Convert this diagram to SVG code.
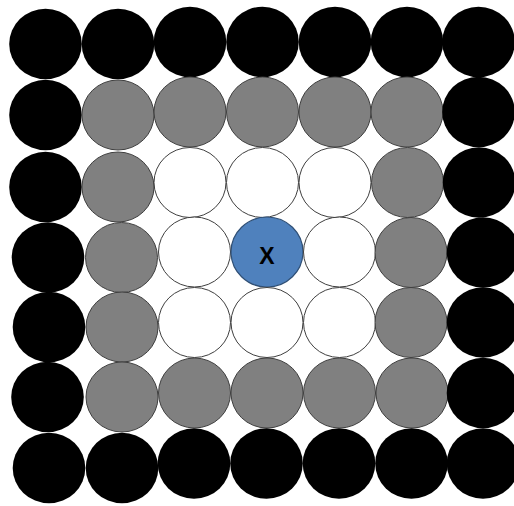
<svg xmlns="http://www.w3.org/2000/svg" width="514" height="506" viewBox="0 0 514 506">
<style>
.k{fill:#000000;stroke:none}
.g{fill:#808080;stroke:#3f3f3f;stroke-width:1}
.w{fill:#ffffff;stroke:#3f3f3f;stroke-width:1}
.b{fill:#4f81bd;stroke:#2f4f75;stroke-width:1.2}
.t{font-family:"Liberation Sans",Arial,sans-serif;font-size:23px;font-weight:bold;fill:#000000;text-anchor:middle}
</style>
<rect width="514" height="506" fill="#ffffff"/>
<g id="row1">
<ellipse id="n11" class="k" cx="45.5" cy="44" rx="36.3" ry="35.3"/>
<ellipse id="n12" class="k" cx="118" cy="44" rx="36.3" ry="35.3"/>
<ellipse id="n13" class="k" cx="190" cy="42" rx="36.3" ry="35.3"/>
<ellipse id="n14" class="k" cx="262.5" cy="42" rx="36.3" ry="35.3"/>
<ellipse id="n15" class="k" cx="335" cy="42" rx="36.3" ry="35.3"/>
<ellipse id="n16" class="k" cx="407" cy="42" rx="36.3" ry="35.3"/>
<ellipse id="n17" class="k" cx="478.5" cy="42" rx="36.3" ry="35.3"/>
</g>
<g id="row2">
<ellipse id="n21" class="k" cx="45.5" cy="115" rx="36.3" ry="35.3"/>
<ellipse id="n22" class="g" cx="118" cy="115" rx="36" ry="35"/>
<ellipse id="n23" class="g" cx="190" cy="112" rx="36" ry="35"/>
<ellipse id="n24" class="g" cx="262.5" cy="112" rx="36" ry="35"/>
<ellipse id="n25" class="g" cx="335" cy="112" rx="36" ry="35"/>
<ellipse id="n26" class="g" cx="407" cy="112" rx="36" ry="35"/>
<ellipse id="n27" class="k" cx="478.5" cy="112" rx="36.3" ry="35.3"/>
</g>
<g id="row3">
<ellipse id="n31" class="k" cx="45.5" cy="187" rx="36.3" ry="35.3"/>
<ellipse id="n32" class="g" cx="118" cy="187" rx="36" ry="35"/>
<ellipse id="n33" class="w" cx="190" cy="182.5" rx="36" ry="35"/>
<ellipse id="n34" class="w" cx="262.5" cy="182.5" rx="36" ry="35"/>
<ellipse id="n35" class="w" cx="335" cy="182.5" rx="36" ry="35"/>
<ellipse id="n36" class="g" cx="407.5" cy="182.5" rx="36" ry="35"/>
<ellipse id="n37" class="k" cx="479" cy="182.5" rx="36.3" ry="35.3"/>
</g>
<g id="row4">
<ellipse id="n41" class="k" cx="48" cy="257.5" rx="36.3" ry="35.3"/>
<ellipse id="n42" class="g" cx="121.5" cy="257.5" rx="36" ry="35"/>
<ellipse id="n43" class="w" cx="194.5" cy="252" rx="36" ry="35"/>
<g id="nX">
<ellipse class="b" cx="267" cy="252" rx="36" ry="35"/>
<text class="t" x="267" y="264">X</text>
</g>
<ellipse id="n45" class="w" cx="339.5" cy="252" rx="36" ry="35"/>
<ellipse id="n46" class="g" cx="411" cy="252.5" rx="36" ry="35"/>
<ellipse id="n47" class="k" cx="483" cy="252.5" rx="36.3" ry="35.3"/>
</g>
<g id="row5">
<ellipse id="n51" class="k" cx="49" cy="327" rx="36.3" ry="35.3"/>
<ellipse id="n52" class="g" cx="122" cy="327" rx="36" ry="35"/>
<ellipse id="n53" class="w" cx="194.5" cy="322.5" rx="36" ry="35"/>
<ellipse id="n54" class="w" cx="267" cy="322.5" rx="36" ry="35"/>
<ellipse id="n55" class="w" cx="339.5" cy="322.5" rx="36" ry="35"/>
<ellipse id="n56" class="g" cx="411" cy="322.5" rx="36" ry="35"/>
<ellipse id="n57" class="k" cx="483" cy="322.5" rx="36.3" ry="35.3"/>
</g>
<g id="row6">
<ellipse id="n61" class="k" cx="47.5" cy="397" rx="36.3" ry="35.3"/>
<ellipse id="n62" class="g" cx="122" cy="397" rx="36" ry="35"/>
<ellipse id="n63" class="g" cx="194.5" cy="393" rx="36" ry="35"/>
<ellipse id="n64" class="g" cx="267" cy="393" rx="36" ry="35"/>
<ellipse id="n65" class="g" cx="339.5" cy="393" rx="36" ry="35"/>
<ellipse id="n66" class="g" cx="412" cy="393" rx="36" ry="35"/>
<ellipse id="n67" class="k" cx="483" cy="393" rx="36.3" ry="35.3"/>
</g>
<g id="row7">
<ellipse id="n71" class="k" cx="49" cy="468" rx="36.3" ry="35.3"/>
<ellipse id="n72" class="k" cx="122" cy="468" rx="36.3" ry="35.3"/>
<ellipse id="n73" class="k" cx="194" cy="463.5" rx="36.3" ry="35.3"/>
<ellipse id="n74" class="k" cx="266.5" cy="463.5" rx="36.3" ry="35.3"/>
<ellipse id="n75" class="k" cx="339" cy="463.5" rx="36.3" ry="35.3"/>
<ellipse id="n76" class="k" cx="411.5" cy="463.5" rx="36.3" ry="35.3"/>
<ellipse id="n77" class="k" cx="483" cy="463.5" rx="36.3" ry="35.3"/>
</g>
<g id="connectors"/>
</svg>
